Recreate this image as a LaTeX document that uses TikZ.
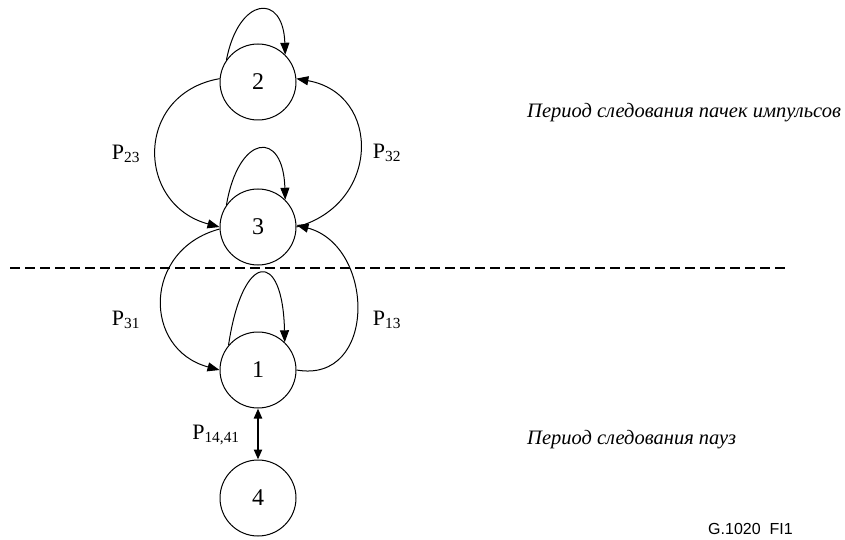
\documentclass[tikz,border=0pt]{standalone}
\usepackage{fontspec}
\setmainfont{Liberation Serif}
\newfontfamily\figfont{Liberation Sans}
\usetikzlibrary{arrows.meta}

\begin{document}
\begin{tikzpicture}[x=1pt,y=1pt,
    state/.style={circle,draw,line width=1pt,minimum size=76pt,inner sep=0pt,
                  font=\fontsize{24}{27}\selectfont},
    trans/.style={-{Triangle[length=12pt,width=9pt]},line width=1pt},
    both/.style={{Triangle[length=10pt,width=8pt]}-{Triangle[length=10pt,width=8pt]},line width=2.2pt},
    plabel/.style={font=\fontsize{22}{26}\selectfont,inner sep=0pt},
    period/.style={font=\fontsize{20.5}{24}\selectfont\itshape,anchor=west,inner sep=0pt}]
    \useasboundingbox (0,0) rectangle (845,539);
    % states
    \node[state] (s2) at (258,457) {2};
    \node[state] (s3) at (258,312) {3};
    \node[state] (s1) at (258,169) {1};
    \node[state] (s4) at (258,41) {4};
    % self loops
    \draw[trans] (s2.145) .. controls +(12,63) and +(-2,63) .. (s2.45);
    \draw[trans] (s3.145) .. controls +(12,71) and +(-2,71) .. (s3.45);
    \draw[trans] (s1.140) .. controls +(14,94) and +(-2,94) .. (s1.46);
    % transitions
    \draw[trans] (s2.175) to[out=190,in=165,looseness=1.5] (s3.180);
    \draw[trans] (s3.0) to[out=15,in=-10,looseness=1.5] (s2.5);
    \draw[trans] (s3.183) to[out=195,in=165,looseness=1.45] (s1.180);
    \draw[trans] (s1.0) to[out=-10,in=-15,looseness=1.45] (s3.3);
    \draw[both] (s1.south) -- (s4.north);
    % labels
    \node[plabel] (p23) at (126,385) {P\textsubscript{23}};
    \node[plabel] (p32) at (387,386) {P\textsubscript{32}};
    \node[plabel] (p31) at (126,219) {P\textsubscript{31}};
    \node[plabel] (p13) at (387,219) {P\textsubscript{13}};
    \node[plabel] (p14) at (216,104) {P\textsubscript{14,41}};
    % boundary between periods
    \coordinate (dashL) at (10,271);
    \coordinate (dashR) at (788,271);
    \draw[line width=1.6pt,dash pattern=on 10pt off 5pt] (dashL) -- (dashR);
    \node[period] (burst) at (527,426) {Период следования пачек импульсов};
    \node[period] (pause) at (527,99) {Период следования пауз};
    \node[font=\figfont\fontsize{16}{18}\selectfont,anchor=south west,inner sep=0pt]
        (fig) at (708,4) {G.1020\ \ FI1};
\end{tikzpicture}
\end{document}
